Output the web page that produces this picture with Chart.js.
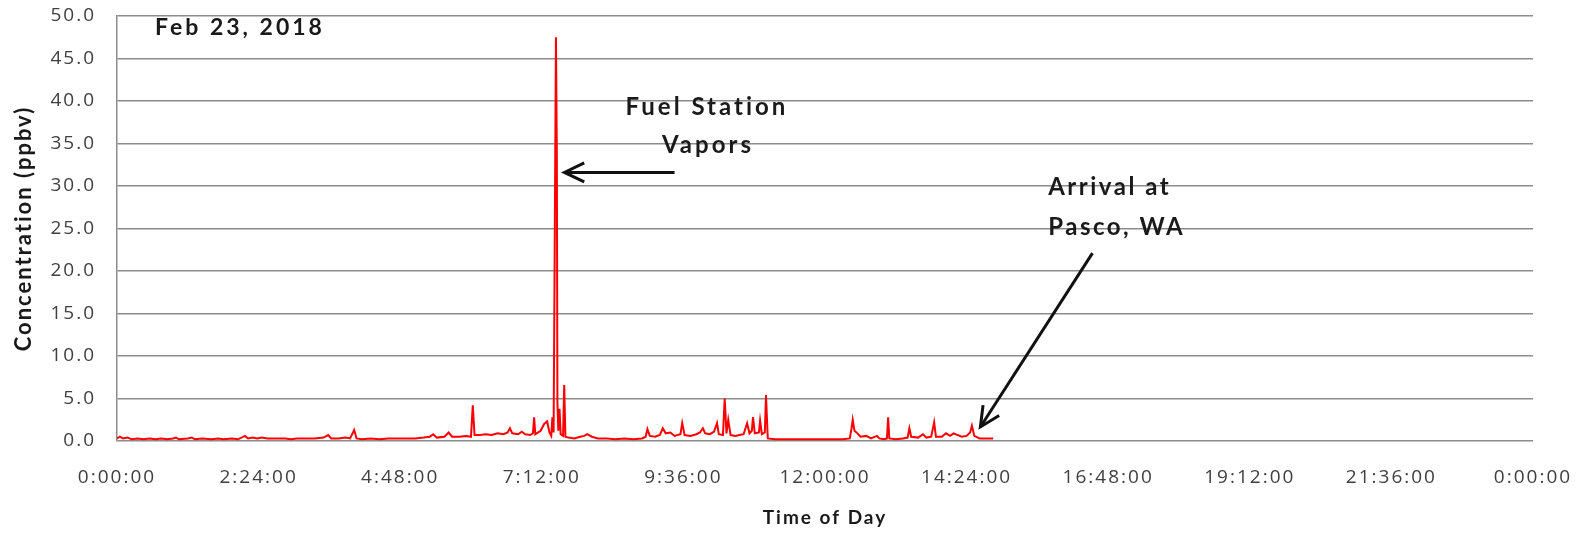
<!DOCTYPE html>
<html>
<head>
<meta charset="utf-8">
<script src="https://cdn.jsdelivr.net/npm/chart.js@4.4.1/dist/chart.umd.min.js"></script>
<style>
  html, body { margin: 0; padding: 0; background: #fff; }
  #wrap { width: 1589px; height: 534px; position: relative; }
</style>
</head>
<body>
<div id="wrap"><canvas id="vocChart"></canvas></div>
<script>
// sample times (decimal hours) and concentrations (ppbv), one line per stretch of the drive
const timeHours = [
  0.00, 0.05, 0.10, 0.18, 0.25, 0.35, 0.45, 0.55, 0.65, 0.75, 0.85, 0.95, 1.00, 1.05, 1.20, 1.27, 1.32, 1.45, 1.60, 1.72, 1.80, 1.95,
  2.05, 2.17, 2.22, 2.30, 2.38, 2.45, 2.55, 2.65, 2.75, 2.85, 2.95, 3.05, 3.20, 3.35, 3.50, 3.58, 3.63, 3.75, 3.88, 3.95, 4.02, 4.06, 4.15,
  4.30, 4.45, 4.60, 4.75, 4.90, 5.05, 5.20, 5.30, 5.36, 5.42, 5.55, 5.62, 5.68, 5.80, 5.92, 6.00, 6.03, 6.06,
  6.15, 6.25, 6.35, 6.45, 6.55, 6.62, 6.66, 6.70, 6.80, 6.86, 6.92, 7.00, 7.05, 7.07, 7.09, 7.18, 7.24, 7.29, 7.33, 7.36, 7.38, 7.40,
  7.44, 7.455, 7.465, 7.48, 7.50, 7.52, 7.56, 7.58, 7.60,
  7.65, 7.75, 7.85, 7.92, 7.97, 8.05, 8.15, 8.30, 8.45, 8.60, 8.75, 8.90, 8.96, 8.99, 9.03, 9.12,
  9.20, 9.25, 9.30, 9.38, 9.45, 9.55, 9.58, 9.62, 9.72, 9.82, 9.88, 9.93, 9.97, 10.05, 10.12, 10.17, 10.20, 10.27,
  10.30, 10.33, 10.36, 10.40, 10.48, 10.55, 10.62, 10.68, 10.72, 10.76, 10.78, 10.81, 10.88, 10.90, 10.93, 10.98, 11.00, 11.03,
  11.15, 11.30, 11.50, 11.70, 11.90, 12.10, 12.30, 12.42, 12.45, 12.47, 12.50, 12.55, 12.60, 12.70, 12.78,
  12.88, 12.92, 13.00, 13.05, 13.07, 13.09, 13.20, 13.32, 13.40, 13.43, 13.46, 13.58, 13.66, 13.72, 13.80,
  13.85, 13.88, 13.98, 14.05, 14.12, 14.18, 14.25, 14.32, 14.40, 14.46, 14.49, 14.53, 14.62, 14.72, 14.85
];
const concPpbv = [
  0.3, 0.5, 0.3, 0.4, 0.2, 0.3, 0.2, 0.3, 0.2, 0.3, 0.2, 0.3, 0.4, 0.2, 0.3, 0.4, 0.2, 0.3, 0.2, 0.3, 0.2, 0.3,
  0.2, 0.6, 0.3, 0.4, 0.3, 0.4, 0.3, 0.3, 0.3, 0.3, 0.2, 0.3, 0.3, 0.3, 0.4, 0.7, 0.3, 0.3, 0.4, 0.3, 1.3, 0.3, 0.2,
  0.3, 0.2, 0.3, 0.3, 0.3, 0.3, 0.4, 0.5, 0.8, 0.4, 0.5, 1.0, 0.5, 0.5, 0.6, 0.5, 4.2, 0.7,
  0.7, 0.8, 0.7, 0.9, 0.8, 1.0, 1.5, 0.9, 0.8, 1.1, 0.8, 0.7, 0.9, 2.8, 0.8, 1.2, 2.0, 2.3, 1.0, 0.6, 2.8, 1.0,
  47.5, 33.5, 4.5, 1.2, 3.8, 0.8, 0.6, 6.6, 0.5,
  0.4, 0.3, 0.5, 0.6, 0.8, 0.5, 0.3, 0.3, 0.2, 0.3, 0.2, 0.3, 0.5, 1.4, 0.6, 0.5,
  0.7, 1.5, 0.9, 1.0, 0.6, 0.8, 2.1, 0.7, 0.6, 0.8, 1.0, 1.5, 0.9, 0.8, 1.1, 2.1, 0.8, 0.7,
  5.0, 0.9, 2.5, 0.7, 0.6, 0.7, 0.8, 2.1, 0.9, 1.2, 2.8, 0.9, 1.0, 2.4, 0.8, 1.0, 5.4, 0.3,
  0.2, 0.2, 0.2, 0.2, 0.2, 0.2, 0.2, 0.3, 1.5, 2.5, 1.2, 0.9, 0.5, 0.6, 0.3,
  0.6, 0.3, 0.2, 0.3, 2.8, 0.3, 0.2, 0.3, 0.4, 1.5, 0.5, 0.4, 0.8, 0.4, 0.5,
  2.2, 0.5, 0.5, 0.9, 0.6, 0.9, 0.7, 0.5, 0.6, 1.0, 1.8, 0.6, 0.3, 0.3, 0.3
];

const dateLabel = "Feb 23, 2018";
const yTitle = "Concentration (ppbv)";
const xTitle = "Time of Day";
const fuelNote = ["Fuel Station", "Vapors"];
const arrivalNote = ["Arrival at", "Pasco, WA"];

// x axis runs in minutes so the 2:24:00 step is a whole number
const points = timeHours.map((h, i) => ({ x: h * 60, y: concPpbv[i] }));

function clockLabel(min) {
  const secs = Math.round(min * 60) % 86400;
  const h = Math.floor(secs / 3600);
  const m = Math.floor((secs % 3600) / 60);
  const s = secs % 60;
  return h + ":" + String(m).padStart(2, "0") + ":" + String(s).padStart(2, "0");
}

function drawArrow(ctx, x0, y0, x1, y1) {
  ctx.beginPath();
  ctx.moveTo(x0, y0);
  ctx.lineTo(x1, y1);
  ctx.stroke();
  const a = Math.atan2(y1 - y0, x1 - x0);
  const len = 22, spread = 0.45;
  ctx.beginPath();
  ctx.moveTo(x1 - len * Math.cos(a - spread), y1 - len * Math.sin(a - spread));
  ctx.lineTo(x1, y1);
  ctx.lineTo(x1 - len * Math.cos(a + spread), y1 - len * Math.sin(a + spread));
  ctx.stroke();
}

// wider text tracking for ticks and axis titles
const tracking = {
  id: "tracking",
  beforeDraw(chart) {
    chart.ctx.letterSpacing = "2px";
  }
};

// date stamp plus the two callouts, placed in data units
const notes = {
  id: "notes",
  afterDraw(chart) {
    const { ctx, chartArea } = chart;
    const x = chart.scales.x, y = chart.scales.y;
    ctx.save();
    ctx.fillStyle = "#1a1a1a";
    ctx.strokeStyle = "#111";
    ctx.textBaseline = "middle";

    ctx.letterSpacing = "3px";
    ctx.font = "bold 23px Lato";
    ctx.textAlign = "left";
    ctx.fillText(dateLabel, chartArea.left + 38, chartArea.top + 12);

    ctx.font = "bold 24px Lato";
    ctx.textAlign = "center";
    ctx.fillText(fuelNote[0], x.getPixelForValue(600), y.getPixelForValue(39.3));
    ctx.fillText(fuelNote[1], x.getPixelForValue(601), y.getPixelForValue(34.8));

    ctx.letterSpacing = "2.5px";
    ctx.textAlign = "left";
    ctx.fillText(arrivalNote[0], x.getPixelForValue(947), y.getPixelForValue(29.9));
    ctx.fillText(arrivalNote[1], x.getPixelForValue(947), y.getPixelForValue(25.2));

    ctx.lineWidth = 3;
    ctx.lineCap = "butt";
    drawArrow(ctx, x.getPixelForValue(567), y.getPixelForValue(31.6), x.getPixelForValue(455), y.getPixelForValue(31.6));
    drawArrow(ctx, x.getPixelForValue(992), y.getPixelForValue(22.1), x.getPixelForValue(878), y.getPixelForValue(1.65));
    ctx.restore();
  }
};

new Chart(document.getElementById("vocChart"), {
  type: "line",
  data: {
    datasets: [{
      data: points,
      borderColor: "#ff0000",
      borderWidth: 2,
      pointRadius: 0,
      tension: 0,
      fill: false
    }]
  },
  options: {
    responsive: true,
    maintainAspectRatio: false,
    animation: false,
    layout: { padding: { top: 16, right: 56, bottom: 0, left: 0 } },
    plugins: {
      legend: { display: false },
      tooltip: { enabled: false }
    },
    scales: {
      x: {
        type: "linear",
        min: 0,
        max: 1440,
        grid: { display: false },
        border: { display: false },
        ticks: {
          stepSize: 144,
          padding: 17,
          color: "#404040",
          font: { family: "Open Sans", size: 19 },
          maxRotation: 0,
          autoSkip: false,
          callback: (v) => clockLabel(v)
        },
        title: {
          display: true,
          text: xTitle,
          color: "#1a1a1a",
          font: { family: "Lato", size: 19, weight: "bold" },
          padding: { top: 0, bottom: 5 }
        },
        afterFit: (scale) => { scale.height = 93; }
      },
      y: {
        min: 0,
        max: 50,
        // the gap between labels and axis comes from an invisible tick mark
        grid: { color: "#8c8c8c", lineWidth: 1.5, drawTicks: true, tickLength: 21, tickColor: "rgba(0,0,0,0)" },
        border: { display: true, color: "#8c8c8c", width: 1.5 },
        ticks: {
          stepSize: 5,
          padding: 0,
          color: "#404040",
          font: { family: "Open Sans", size: 19 },
          callback: (v) => v.toFixed(1)
        },
        title: {
          display: true,
          text: yTitle,
          color: "#1a1a1a",
          font: { family: "Lato", size: 22, weight: "bold" },
          padding: { top: 11, bottom: 0 }
        },
        afterFit: (scale) => { scale.width = 117; }
      }
    }
  },
  plugins: [tracking, notes]
});
</script>
</body>
</html>
